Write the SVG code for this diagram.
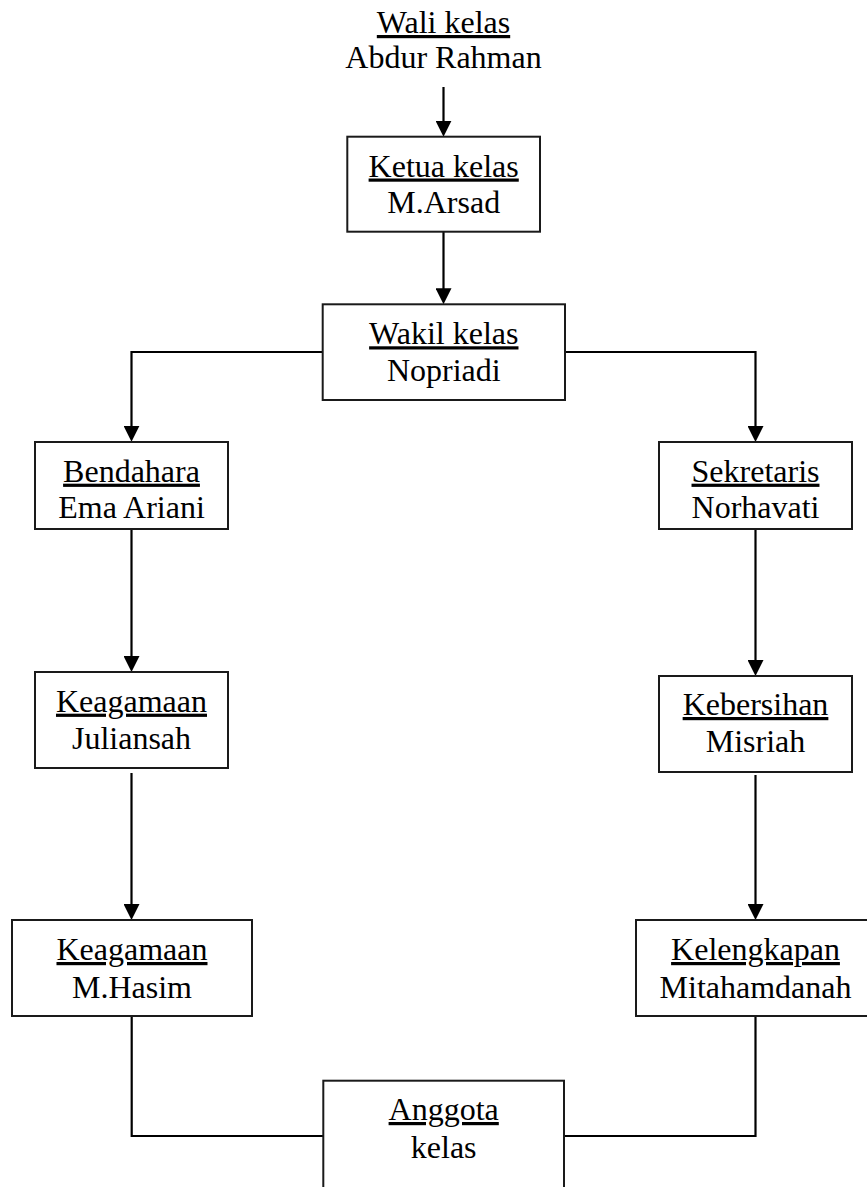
<svg xmlns="http://www.w3.org/2000/svg" width="867" height="1187" viewBox="0 0 867 1187">
<style>
.box{fill:#fff;stroke:#1a1a1a;stroke-width:2}
.t{font-family:"Liberation Serif","Times New Roman",serif;font-size:32px;fill:#000;text-anchor:middle}
.u{text-decoration:underline}
.c{fill:none;stroke:#000;stroke-width:2.2}
</style>
<defs>
<marker id="ah" viewBox="0 0 16 16" refX="8" refY="8" markerWidth="16" markerHeight="16" markerUnits="userSpaceOnUse" orient="auto">
<path d="M0,0 L16,8 L0,16 z" fill="#000"/>
</marker>
</defs>
<rect width="867" height="1187" fill="#fff"/>
<g id="connectors">
<path class="c" d="M443.5,87 V128.7" marker-end="url(#ah)"/>
<path class="c" d="M443.5,232 V296.3" marker-end="url(#ah)"/>
<path class="c" d="M322.7,352 H131.5 V433.7" marker-end="url(#ah)"/>
<path class="c" d="M565,352 H755.5 V434" marker-end="url(#ah)"/>
<path class="c" d="M131.5,529 V664" marker-end="url(#ah)"/>
<path class="c" d="M131.5,773 V912" marker-end="url(#ah)"/>
<path class="c" d="M755.5,529 V668" marker-end="url(#ah)"/>
<path class="c" d="M755.5,775 V912" marker-end="url(#ah)"/>
<path class="c" d="M131.7,1016 V1136 H323.3"/>
<path class="c" d="M755.5,1016 V1136 H564"/>
</g>
<g id="wali">
<text class="t u" x="443.5" y="33">Wali kelas</text>
<text class="t" x="443.5" y="68">Abdur Rahman</text>
</g>
<g id="ketua">
<rect class="box" x="347.3" y="136.7" width="192.7" height="95"/>
<text class="t u" x="443.7" y="176.5">Ketua kelas</text>
<text class="t" x="443.7" y="213">M.Arsad</text>
</g>
<g id="wakil">
<rect class="box" x="322.7" y="304.3" width="242.3" height="95.7"/>
<text class="t u" x="443.8" y="344.3">Wakil kelas</text>
<text class="t" x="443.8" y="380.7">Nopriadi</text>
</g>
<g id="bendahara">
<rect class="box" x="35" y="442" width="193" height="87"/>
<text class="t u" x="131.5" y="481.7">Bendahara</text>
<text class="t" x="131.5" y="518">Ema Ariani</text>
</g>
<g id="sekretaris">
<rect class="box" x="659" y="442" width="193" height="87"/>
<text class="t u" x="755.5" y="481.7">Sekretaris</text>
<text class="t" x="755.5" y="518">Norhavati</text>
</g>
<g id="keagamaan1">
<rect class="box" x="35" y="672" width="193" height="96"/>
<text class="t u" x="131.5" y="711.7">Keagamaan</text>
<text class="t" x="131.5" y="749">Juliansah</text>
</g>
<g id="kebersihan">
<rect class="box" x="659" y="676" width="193" height="96"/>
<text class="t u" x="755.5" y="715">Kebersihan</text>
<text class="t" x="755.5" y="751.7">Misriah</text>
</g>
<g id="keagamaan2">
<rect class="box" x="12" y="920" width="240" height="96"/>
<text class="t u" x="132" y="960">Keagamaan</text>
<text class="t" x="132" y="998">M.Hasim</text>
</g>
<g id="kelengkapan">
<rect class="box" x="636" y="920" width="239" height="96"/>
<text class="t u" x="755.5" y="960">Kelengkapan</text>
<text class="t" x="755.5" y="998">Mitahamdanah</text>
</g>
<g id="anggota">
<rect class="box" x="323.3" y="1080.7" width="240.7" height="130"/>
<text class="t u" x="443.7" y="1120">Anggota</text>
<text class="t" x="443.7" y="1157.5">kelas</text>
</g>
</svg>
